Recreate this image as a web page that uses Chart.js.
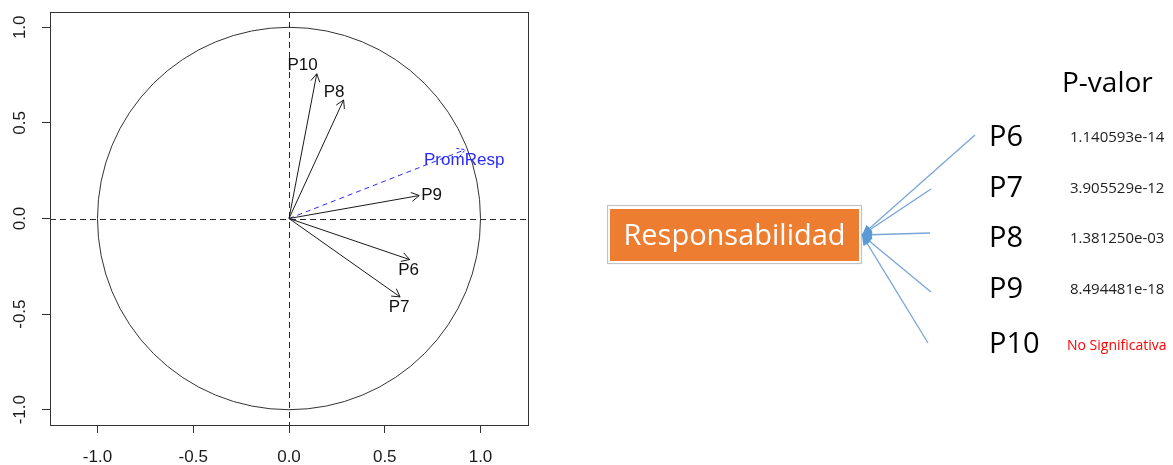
<!DOCTYPE html>
<html>
<head>
<meta charset="utf-8">
<script src="https://cdn.jsdelivr.net/npm/chart.js@4.4.0/dist/chart.umd.min.js"></script>
<style>
  html, body { margin: 0; padding: 0; background: #fff; }
  #wrap { position: relative; width: 1173px; height: 465px; overflow: hidden; background: #fff; }
  #plot { position: absolute; left: 0; top: 0; }
  #panel { position: absolute; left: 0; top: 0; pointer-events: none; }
</style>
</head>
<body>
<div id="wrap">
  <canvas id="plot" width="545" height="465"></canvas>
  <svg id="panel" width="1173" height="465" xmlns="http://www.w3.org/2000/svg"></svg>
</div>
<script>
// Variable loadings on the first two dimensions
const variables = ['P6', 'P7', 'P8', 'P9', 'P10'];
const dim1 = [0.63, 0.58, 0.285, 0.68, 0.145];
const dim2 = [-0.215, -0.41, 0.62, 0.12, 0.757];

// Supplementary variable (average response)
const suppName = 'PromResp';
const suppDim1 = [0.92];
const suppDim2 = [0.36];

// Axis tick values
const axisTicks = [-1, -0.5, 0, 0.5, 1];

// Right-hand summary: factor and p-values per item
const factorName = 'Responsabilidad';
const pHeader = 'P-valor';
const pValues = ['1.140593e-14', '3.905529e-12', '1.381250e-03', '8.494481e-18', null];
const notSignificant = 'No Significativa';

// ---- label placement (style) ----
const labelSide = { P6: 'below', P7: 'below', P8: 'aboveLeft', P9: 'right', P10: 'aboveLeft', PromResp: 'below' };

const datasets = variables.map((name, i) => ({
  label: name,
  data: [{ x: 0, y: 0 }, { x: dim1[i], y: dim2[i] }],
  borderColor: '#1a1a1a',
  borderWidth: 1,
  pointRadius: 0,
  showLine: true,
  fill: false
}));
datasets.push({
  label: suppName,
  data: [{ x: 0, y: 0 }, { x: suppDim1[0], y: suppDim2[0] }],
  borderColor: '#2a2aff',
  borderDash: [5, 4],
  borderWidth: 1,
  pointRadius: 0,
  showLine: true,
  fill: false,
  labelColor: '#2a2aff'
});

// Unit circle, dashed zero lines, arrowheads, labels and frame
const framePlugin = {
  id: 'frame',
  beforeDatasetsDraw(chart) {
    const { ctx, chartArea: a, scales: { x, y } } = chart;
    const cx = x.getPixelForValue(0), cy = y.getPixelForValue(0);
    ctx.save();
    ctx.strokeStyle = '#333';
    ctx.lineWidth = 1;
    ctx.beginPath();
    ctx.ellipse(cx, cy, x.getPixelForValue(1) - cx, cy - y.getPixelForValue(1), 0, 0, Math.PI * 2);
    ctx.stroke();
    ctx.setLineDash([6, 4]);
    ctx.strokeStyle = '#2a2a2a';
    const px = Math.round(cx) + 0.5, py = Math.round(cy) + 0.5;
    ctx.beginPath();
    ctx.moveTo(a.left, py); ctx.lineTo(a.right, py);
    ctx.moveTo(px, a.top); ctx.lineTo(px, a.bottom);
    ctx.stroke();
    ctx.restore();
  },
  afterDatasetsDraw(chart) {
    const { ctx } = chart;
    ctx.save();
    chart.data.datasets.forEach((ds, i) => {
      const meta = chart.getDatasetMeta(i);
      const p0 = meta.data[0], p1 = meta.data[1];
      const ang = Math.atan2(p1.y - p0.y, p1.x - p0.x);
      const len = 9, spread = Math.PI / 6;
      ctx.strokeStyle = ds.borderColor;
      ctx.lineWidth = 1;
      ctx.setLineDash(ds.borderDash ? [3, 2] : []);
      ctx.beginPath();
      ctx.moveTo(p1.x - len * Math.cos(ang - spread), p1.y - len * Math.sin(ang - spread));
      ctx.lineTo(p1.x, p1.y);
      ctx.lineTo(p1.x - len * Math.cos(ang + spread), p1.y - len * Math.sin(ang + spread));
      ctx.stroke();
      ctx.setLineDash([]);
      ctx.font = '17px "Liberation Sans", Arial, sans-serif';
      ctx.fillStyle = ds.labelColor || '#111';
      ctx.textBaseline = 'middle';
      const side = labelSide[ds.label];
      if (side === 'below') {
        ctx.textAlign = 'center';
        ctx.fillText(ds.label, p1.x - 1, p1.y + 10.5);
      } else if (side === 'right') {
        ctx.textAlign = 'left';
        ctx.fillText(ds.label, p1.x + 2, p1.y);
      } else {
        ctx.textAlign = 'right';
        ctx.fillText(ds.label, p1.x + 1, p1.y - 8);
      }
    });
    ctx.restore();
  },
  afterDraw(chart) {
    const { ctx, chartArea: a } = chart;
    ctx.save();
    ctx.strokeStyle = '#333';
    ctx.lineWidth = 1;
    ctx.strokeRect(Math.round(a.left) + 0.5, Math.round(a.top) + 0.5,
      Math.round(a.right - a.left), Math.round(a.bottom - a.top));
    ctx.restore();
  }
};

const tickFont = { family: '"Liberation Sans", Arial, sans-serif', size: 17 };

new Chart(document.getElementById('plot'), {
  type: 'scatter',
  data: { datasets },
  options: {
    responsive: false,
    animation: false,
    devicePixelRatio: 1,
    layout: { padding: { left: 0, top: 12, right: 17, bottom: 0 } },
    plugins: { legend: { display: false }, tooltip: { enabled: false } },
    elements: { line: { tension: 0 } },
    scales: {
      x: {
        type: 'linear', min: -1.248, max: 1.248,
        afterBuildTicks: s => { s.ticks = axisTicks.map(v => ({ value: v })); },
        afterFit: s => { s.height = 40; s.paddingLeft = 0; s.paddingRight = 0; },
        grid: { drawOnChartArea: false, drawTicks: true, tickLength: 8, color: '#333', lineWidth: 1 },
        border: { display: false },
        ticks: { padding: 14, font: tickFont, color: '#1a1a1a', maxRotation: 0, autoSkip: false,
                 callback: v => Number(v).toFixed(1) }
      },
      y: {
        type: 'linear', min: -1.08, max: 1.08,
        afterBuildTicks: s => { s.ticks = axisTicks.map(v => ({ value: v })); },
        afterFit: s => { s.width = 50; s.paddingTop = 0; s.paddingBottom = 0; },
        grid: { drawOnChartArea: false, drawTicks: true, tickLength: 8, color: '#333', lineWidth: 1 },
        border: { display: false },
        ticks: { padding: 7, font: tickFont, color: '#1a1a1a', minRotation: 90, maxRotation: 90,
                 crossAlign: 'center', autoSkip: false, callback: v => Number(v).toFixed(1) }
      }
    }
  },
  plugins: [framePlugin]
});

// ---- right-hand diagram ----
const NS = 'http://www.w3.org/2000/svg';
const svg = document.getElementById('panel');
function el(tag, attrs, text) {
  const n = document.createElementNS(NS, tag);
  for (const k in attrs) n.setAttribute(k, attrs[k]);
  if (text != null) n.textContent = text;
  svg.appendChild(n);
  return n;
}
const sans = '"Open Sans", sans-serif';

// factor box
el('rect', { x: 607.5, y: 205.5, width: 254, height: 58, fill: '#fff', stroke: '#c4c4c4', 'stroke-width': 1.2 });
el('rect', { x: 610, y: 209, width: 249, height: 52, fill: '#ED7D31' });
el('text', { x: 734.5, y: 245, 'text-anchor': 'middle', 'font-family': sans, 'font-size': 29, fill: '#fff' }, factorName);

// connectors from the box to each item
const hub = [862, 235];
const rowBase = [146, 197, 247, 298, 353];
const fanEnds = [[975, 135], [931, 189], [930, 233], [931, 292], [928, 343]];
variables.forEach((v, i) => {
  const [ex, ey] = fanEnds[i];
  el('line', { x1: hub[0], y1: hub[1], x2: ex, y2: ey, stroke: '#79A5D8', 'stroke-width': 1.3 });
});
variables.forEach((v, i) => {
  const [ex, ey] = fanEnds[i];
  const dx = ex - hub[0], dy = ey - hub[1], L = Math.hypot(dx, dy);
  const ux = dx / L, uy = dy / L, len = 10, hw = 4.5;
  const bx = hub[0] + ux * len, by = hub[1] + uy * len;
  el('polygon', {
    points: `${hub[0]},${hub[1]} ${bx - uy * hw},${by + ux * hw} ${bx + uy * hw},${by - ux * hw}`,
    fill: '#5B9BD5'
  });
});

// header and rows
el('text', { x: 1062, y: 92, 'font-family': sans, 'font-size': 28, fill: '#000' }, pHeader);
variables.forEach((v, i) => {
  el('text', { x: 989, y: rowBase[i], 'font-family': sans, 'font-size': 29, fill: '#000' }, v);
  const p = pValues[i];
  if (p) {
    el('text', { x: 1070, y: rowBase[i] - 4, 'font-family': sans, 'font-size': 15, fill: '#222' }, p);
  } else {
    el('text', { x: 1067, y: rowBase[i] - 3, 'font-family': sans, 'font-size': 14, fill: '#ff0000' }, notSignificant);
  }
});
</script>
</body>
</html>
